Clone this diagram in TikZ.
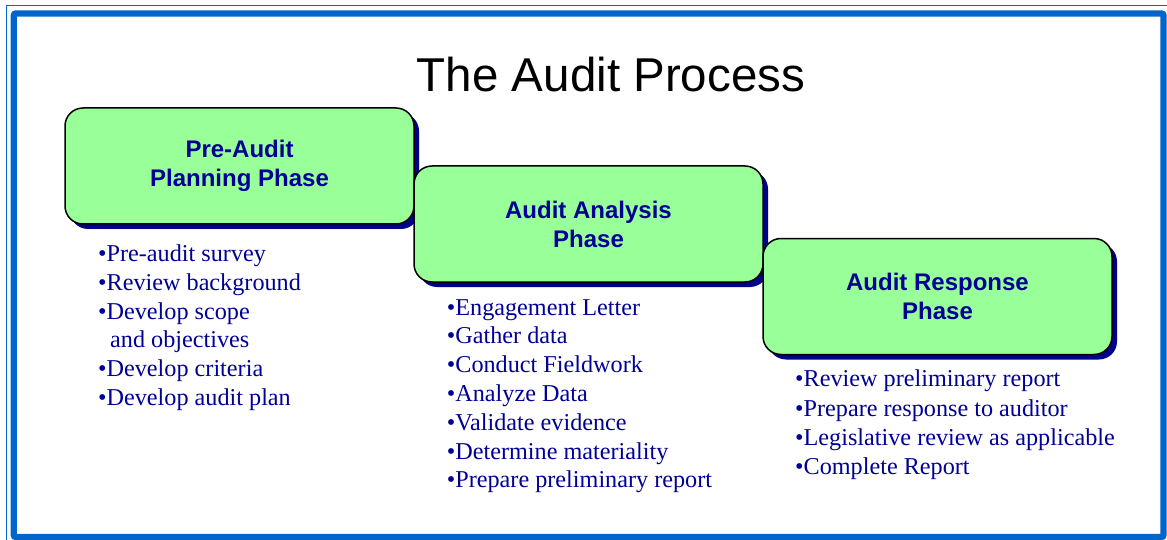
\documentclass[tikz,border=0pt]{standalone}
\usepackage{fontspec}
\setmainfont{Liberation Serif}
\newfontfamily\arialfont{Liberation Sans}
\usetikzlibrary{shadows}
\definecolor{navytext}{RGB}{0,0,150}
\definecolor{boxgreen}{RGB}{153,255,153}
\definecolor{shadownavy}{RGB}{0,0,140}
\definecolor{frameblue}{RGB}{0,102,204}
\begin{document}
\begin{tikzpicture}[x=1pt,y=-1pt,
  phase/.style={draw=black, line width=1.5pt, fill=boxgreen, rounded corners=18pt,
    minimum width=349pt, minimum height=116pt, inner sep=0pt, align=center,
    text=navytext, font=\arialfont\bfseries\fontsize{24}{29}\selectfont,
    drop shadow={shadow xshift=5pt, shadow yshift=-5pt, fill=shadownavy, opacity=1}},
  itemlist/.style={anchor=base west, inner sep=0pt, text=navytext},
  framestyle/.style={draw=frameblue}]
\useasboundingbox (0,0) rectangle (1167,540);
\fill[white] (0,0) rectangle (1167,540);
\begin{scope}
\clip (0,0) rectangle (1167,540);
\draw[framestyle, line width=1.3pt] (6.3,5.6) rectangle (1185,560);
\draw[framestyle, line width=6.3pt, rounded corners=2pt] (13.8,13.5) rectangle (1163.5,537);
\end{scope}
\node[anchor=base, inner sep=0pt, font=\arialfont\fontsize{47.5}{56}\selectfont] (title) at (611,91.7) {The Audit Process};
\node[phase] (pre) at (239.5,166) {Pre-Audit\\Planning Phase};
\node[phase] (ana) at (588.5,224) {Audit Analysis\\Phase};
\node[phase] (resp) at (937.5,296.5) {Audit Response\\Phase};
\node[itemlist, font=\fontsize{24.2}{28.7}\selectfont] (prelist) at (98,261.7) {\vtop{%
  \hbox{•Pre-audit survey}
  \hbox{•Review background}
  \hbox{•Develop scope}
  \hbox{\hspace{12pt}and objectives}
  \hbox{•Develop criteria}
  \hbox{•Develop audit plan}}};
\node[itemlist, font=\fontsize{24.2}{28.8}\selectfont] (analist) at (446.7,315) {\vtop{%
  \hbox{•Engagement Letter}
  \hbox{•Gather data}
  \hbox{•Conduct Fieldwork}
  \hbox{•Analyze Data}
  \hbox{•Validate evidence}
  \hbox{•Determine materiality}
  \hbox{•Prepare preliminary report}}};
\node[itemlist, font=\fontsize{24.2}{29.4}\selectfont] (resplist) at (795,386.7) {\vtop{%
  \hbox{•Review preliminary report}
  \hbox{•Prepare response to auditor}
  \hbox{•Legislative review as applicable}
  \hbox{•Complete Report}}};
\end{tikzpicture}
\end{document}
